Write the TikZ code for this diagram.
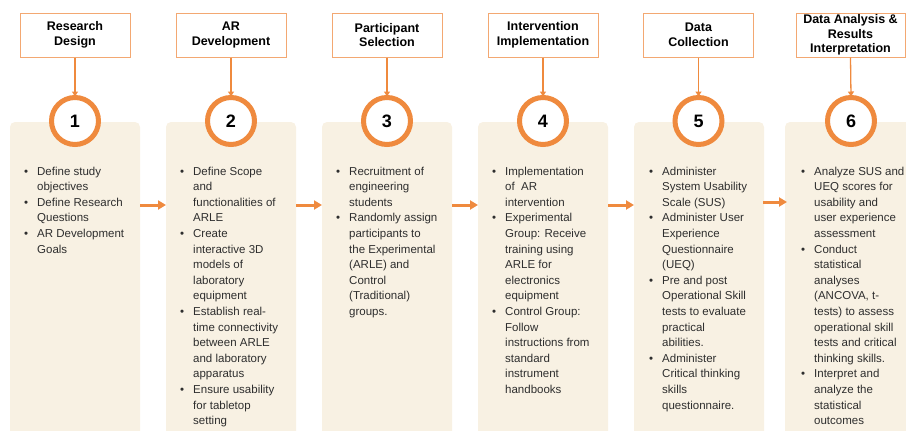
\documentclass[tikz,border=0pt]{standalone}
\usepackage{fontspec}
\setmainfont{Liberation Sans}
\usetikzlibrary{arrows.meta}
\definecolor{orng}{HTML}{EF8A3E}
\definecolor{orngl}{HTML}{F3A872}
\definecolor{panelc}{HTML}{F8F1E3}
\definecolor{txt}{HTML}{2E2E2E}
\newcommand{\mybul}{\makebox[13pt][l]{\textbullet}}
\newcommand{\myind}{\hspace*{13pt}}
\newcommand{\bodyfont}{\fontsize{11.5}{15.6}\selectfont}
\tikzset{
  titlebox/.style={draw=orngl, line width=1pt, fill=white, minimum width=110pt, minimum height=44pt,
    inner sep=0pt, align=center, font=\fontsize{12.5}{14.7}\selectfont\bfseries, text=black},
  numcirc/.style={circle, draw=orng, line width=5pt, fill=white, minimum size=47pt, inner sep=0pt,
    font=\fontsize{18}{20}\selectfont\bfseries, text=black},
  panelbox/.style={fill=panelc, rounded corners=5pt},
  bodytext/.style={anchor=north west, inner sep=0pt, font=\bodyfont, text=txt},
  downarrow/.style={draw=orng, line width=1.3pt, -{Triangle[length=5pt,width=6pt]}},
  sidearrow/.style={draw=orng, line width=3pt, -{Triangle[length=8pt,width=9pt]}},
}
\begin{document}
\begin{tikzpicture}[x=1pt,y=-1pt]
\useasboundingbox (0,0) rectangle (906,431);
\begin{scope}
\clip (0,0) rectangle (906,431);
% panels
\fill[panelbox] (10,122) rectangle (140,450);
\fill[panelbox] (166,122) rectangle (296,450);
\fill[panelbox] (322,122) rectangle (452,450);
\fill[panelbox] (478,122) rectangle (608,450);
\fill[panelbox] (634,122) rectangle (764,450);
\fill[panelbox] (785,122) rectangle (915,450);
\coordinate (p1e) at (140,205); \coordinate (p2w) at (166,205);
\coordinate (p2e) at (296,205); \coordinate (p3w) at (322,205);
\coordinate (p3e) at (452,205); \coordinate (p4w) at (478,205);
\coordinate (p4e) at (608,205); \coordinate (p5w) at (634,205);
\coordinate (p5e) at (763,202); \coordinate (p6w) at (787,202);

% title boxes
\node[titlebox] (b1) at (75,35) {Research\\Design};
\node[titlebox] (b2) at (231,35) {AR\\Development};
\node[titlebox] (b3) at (387,35) {Participant\\Selection};
\node[titlebox] (b4) at (543,35) {Intervention\\Implementation};
\node[titlebox] (b5) at (698.5,35) {Data\\Collection};
\node[titlebox, minimum width=109pt] (b6) at (850.5,35) {Data Analysis \&\\Results\\Interpretation};

% circles
\node[numcirc] (c1) at (75,121) {1};
\node[numcirc] (c2) at (231,121) {2};
\node[numcirc] (c3) at (387,121) {3};
\node[numcirc] (c4) at (543,121) {4};
\node[numcirc] (c5) at (698.5,121) {5};
\node[numcirc] (c6) at (851,121) {6};

\foreach \i in {1,...,6} {
  \draw[downarrow] (b\i.south) -- ([yshift=-1.5pt]c\i.north);
}

\draw[sidearrow] (p1e) -- (p2w);
\draw[sidearrow] (p2e) -- (p3w);
\draw[sidearrow] (p3e) -- (p4w);
\draw[sidearrow] (p4e) -- (p5w);
\draw[sidearrow] (p5e) -- (p6w);

% texts
\node[bodytext] (t1) at (24,164) {\begin{tabular}{@{}l@{}}
\mybul Define study\\ \myind objectives\\
\mybul Define Research\\ \myind Questions\\
\mybul AR Development\\ \myind Goals
\end{tabular}};
\node[bodytext] (t2) at (180,164) {\begin{tabular}{@{}l@{}}
\mybul Define Scope\\ \myind and\\ \myind functionalities of\\ \myind ARLE\\
\mybul Create\\ \myind interactive 3D\\ \myind models of\\ \myind laboratory\\ \myind equipment\\
\mybul Establish real-\\ \myind time connectivity\\ \myind between ARLE\\ \myind and laboratory\\ \myind apparatus\\
\mybul Ensure usability\\ \myind for tabletop\\ \myind setting
\end{tabular}};
\node[bodytext] (t3) at (336,164) {\begin{tabular}{@{}l@{}}
\mybul Recruitment of\\ \myind engineering\\ \myind students\\
\mybul Randomly assign\\ \myind participants to\\ \myind the Experimental\\ \myind (ARLE) and\\ \myind Control\\ \myind (Traditional)\\ \myind groups.
\end{tabular}};
\node[bodytext] (t4) at (492,164) {\begin{tabular}{@{}l@{}}
\mybul Implementation\\ \myind of\ \ AR\\ \myind intervention\\
\mybul Experimental\\ \myind Group: Receive\\ \myind training using\\ \myind ARLE for\\ \myind electronics\\ \myind equipment\\
\mybul Control Group:\\ \myind Follow\\ \myind instructions from\\ \myind standard\\ \myind instrument\\ \myind handbooks
\end{tabular}};
\node[bodytext] (t5) at (649,164) {\begin{tabular}{@{}l@{}}
\mybul Administer\\ \myind System Usability\\ \myind Scale (SUS)\\
\mybul Administer User\\ \myind Experience\\ \myind Questionnaire\\ \myind (UEQ)\\
\mybul Pre and post\\ \myind Operational Skill\\ \myind tests to evaluate\\ \myind practical\\ \myind abilities.\\
\mybul Administer\\ \myind Critical thinking\\ \myind skills\\ \myind questionnaire.
\end{tabular}};
\node[bodytext] (t6) at (801,164) {\begin{tabular}{@{}l@{}}
\mybul Analyze SUS and\\ \myind UEQ scores for\\ \myind usability and\\ \myind user experience\\ \myind assessment\\
\mybul Conduct\\ \myind statistical\\ \myind analyses\\ \myind (ANCOVA, t-\\ \myind tests) to assess\\ \myind operational skill\\ \myind tests and critical\\ \myind thinking skills.\\
\mybul Interpret and\\ \myind analyze the\\ \myind statistical\\ \myind outcomes
\end{tabular}};
\end{scope}
\end{tikzpicture}
\end{document}
